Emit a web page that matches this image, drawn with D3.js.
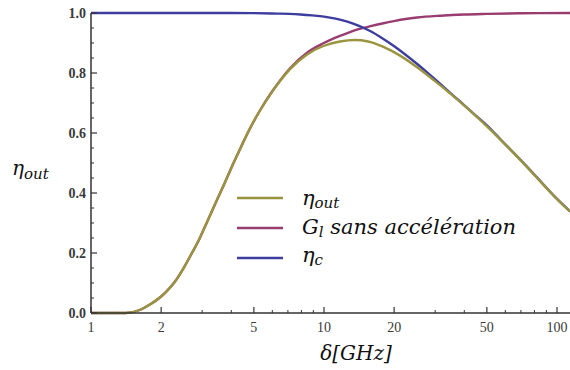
<!DOCTYPE html>
<html>
<head>
<meta charset="utf-8">
<script src="https://cdn.jsdelivr.net/npm/d3@7"></script>
<style>
  html, body { margin: 0; padding: 0; background: #fff; }
  svg { display: block; }
</style>
</head>
<body>
<svg id="chart" width="570" height="370"></svg>
<script>
// ---- data ----
const etaOutX = [1, 1.41, 1.62, 1.79, 2.0, 2.11, 2.29, 2.49, 2.69, 2.94, 3.16, 3.46, 3.76, 4.08, 4.42, 4.81, 5.31, 6.06, 7.15, 8.43, 9.93, 11.7, 13.6, 15.3, 16.5, 18, 21.2, 25, 29.5, 35.9, 42, 49.9, 58, 69.4, 82, 96.4, 113.7];
const etaOutY = [0, 0, 0.01, 0.028, 0.055, 0.072, 0.104, 0.148, 0.195, 0.252, 0.306, 0.374, 0.436, 0.498, 0.556, 0.615, 0.675, 0.743, 0.813, 0.861, 0.89, 0.905, 0.91, 0.906, 0.899, 0.887, 0.858, 0.82, 0.777, 0.723, 0.677, 0.623, 0.573, 0.511, 0.451, 0.392, 0.338];

const gainX = [1, 1.41, 1.62, 1.79, 2.0, 2.11, 2.29, 2.49, 2.69, 2.94, 3.16, 3.46, 3.76, 4.08, 4.42, 4.81, 5.31, 6.06, 7.15, 8.43, 9.93, 11.2, 12.6, 14.1, 15.85, 17.8, 19.95, 22.4, 25.1, 31.6, 39.8, 50, 70, 114];
const gainY = [0, 0, 0.01, 0.028, 0.055, 0.072, 0.104, 0.148, 0.195, 0.252, 0.306, 0.374, 0.436, 0.498, 0.556, 0.615, 0.675, 0.744, 0.816, 0.867, 0.899, 0.918, 0.933, 0.946, 0.956, 0.965, 0.973, 0.98, 0.985, 0.991, 0.995, 0.997, 0.999, 1.0];

const etaCX = [1, 3, 3.98, 5.0, 6.3, 7.08, 7.94, 8.9, 10, 11.22, 12.59, 14.13, 15.85, 17.78, 19.95, 22.39, 25.12, 28.18, 31.62, 35.48, 39.81, 44.67, 50.12, 58, 69.4, 82, 96.4, 113.7];
const etaCY = [1, 1, 1, 0.9995, 0.998, 0.997, 0.995, 0.992, 0.988, 0.981, 0.971, 0.957, 0.939, 0.916, 0.89, 0.861, 0.83, 0.797, 0.763, 0.728, 0.694, 0.659, 0.625, 0.574, 0.512, 0.452, 0.393, 0.339];

const xMajorTicks = [1, 2, 5, 10, 20, 50, 100];
const xMinorTicks = [3, 4, 6, 7, 8, 9, 30, 40, 60, 70, 80, 90];
const yMajorTicks = [0, 0.2, 0.4, 0.6, 0.8, 1.0];
const yMinorTicks = [0.05, 0.1, 0.15, 0.25, 0.3, 0.35, 0.45, 0.5, 0.55, 0.65, 0.7, 0.75, 0.85, 0.9, 0.95];

const seriesColors = ["#99943d", "#993d71", "#3d3da0"];

// ---- drawing ----
const svg = d3.select("#chart");
const x = d3.scaleLog().domain([1, 113.7]).range([91, 570]);
const y = d3.scaleLinear().domain([0, 1]).range([313, 13]);

svg.append("defs").append("clipPath").attr("id", "clip")
  .append("rect").attr("x", 91).attr("y", 0).attr("width", 479).attr("height", 320);

const line = d3.line()
  .x(d => x(d[0])).y(d => y(d[1]))
  .curve(d3.curveMonotoneX);

const series = [
  { xs: gainX, ys: gainY, color: seriesColors[1] },
  { xs: etaCX, ys: etaCY, color: seriesColors[2] },
  { xs: etaOutX, ys: etaOutY, color: seriesColors[0] }
];

const plot = svg.append("g").attr("clip-path", "url(#clip)");
series.forEach(s => {
  plot.append("path")
    .datum(s.xs.map((v, i) => [v, s.ys[i]]))
    .attr("fill", "none")
    .attr("stroke", s.color)
    .attr("stroke-width", 2.4)
    .attr("stroke-linejoin", "round")
    .attr("d", line);
});

const axisColor = "#333";
// bottom axis
const xAxis = svg.append("g");
xAxis.append("line").attr("x1", 91).attr("x2", 570).attr("y1", 313).attr("y2", 313)
  .attr("stroke", axisColor).attr("stroke-width", 1.5);
xAxis.selectAll("line.major").data(xMajorTicks).join("line")
  .attr("class", "major")
  .attr("x1", d => x(d)).attr("x2", d => x(d)).attr("y1", 313).attr("y2", 307)
  .attr("stroke", axisColor).attr("stroke-width", 1.2);
xAxis.selectAll("line.minor").data(xMinorTicks).join("line")
  .attr("class", "minor")
  .attr("x1", d => x(d)).attr("x2", d => x(d)).attr("y1", 313).attr("y2", 310)
  .attr("stroke", axisColor).attr("stroke-width", 1);
xAxis.selectAll("text").data(xMajorTicks).join("text")
  .attr("x", d => x(d)).attr("y", 332)
  .attr("text-anchor", "middle")
  .attr("font-family", "Liberation Serif, serif")
  .attr("font-size", 14)
  .attr("fill", "#3a3a3a")
  .text(d => d);

// left axis
const yAxis = svg.append("g");
yAxis.append("line").attr("x1", 91).attr("x2", 91).attr("y1", 13).attr("y2", 313)
  .attr("stroke", axisColor).attr("stroke-width", 1.5);
yAxis.selectAll("line.major").data(yMajorTicks).join("line")
  .attr("class", "major")
  .attr("x1", 91).attr("x2", 97).attr("y1", d => y(d)).attr("y2", d => y(d))
  .attr("stroke", axisColor).attr("stroke-width", 1.2);
yAxis.selectAll("line.minor").data(yMinorTicks).join("line")
  .attr("class", "minor")
  .attr("x1", 91).attr("x2", 94).attr("y1", d => y(d)).attr("y2", d => y(d))
  .attr("stroke", axisColor).attr("stroke-width", 1);
yAxis.selectAll("text").data(yMajorTicks).join("text")
  .attr("x", 86).attr("y", d => y(d) + 5)
  .attr("text-anchor", "end")
  .attr("font-family", "Liberation Serif, serif")
  .attr("font-size", 14)
  .attr("font-weight", "bold")
  .attr("fill", "#3a3a3a")
  .text(d => d3.format(".1f")(d));

// axis labels
const ylab = svg.append("text")
  .attr("x", 12).attr("y", 175)
  .attr("font-family", "DejaVu Serif, serif")
  .attr("font-style", "italic")
  .attr("font-size", 20)
  .attr("fill", "#111");
ylab.append("tspan").text("η");
ylab.append("tspan").attr("font-size", 15).attr("dy", 4).text("out");

svg.append("text")
  .attr("x", 356).attr("y", 360)
  .attr("text-anchor", "middle")
  .attr("font-family", "DejaVu Serif, serif")
  .attr("font-style", "italic")
  .attr("font-size", 20)
  .attr("fill", "#111")
  .text("δ[GHz]");

// legend
const legY = [198, 228, 258];
const leg = svg.append("g");
[0, 1, 2].forEach(i => {
  leg.append("line")
    .attr("x1", 237).attr("x2", 283).attr("y1", legY[i]).attr("y2", legY[i])
    .attr("stroke", seriesColors[i]).attr("stroke-width", 2.4);
});
const t0 = leg.append("text").attr("x", 302).attr("y", 205)
  .attr("font-family", "DejaVu Serif, serif").attr("font-style", "italic")
  .attr("font-size", 21).attr("fill", "#111");
t0.append("tspan").text("η");
t0.append("tspan").attr("font-size", 15).attr("dy", 3).text("out");

const t1 = leg.append("text").attr("x", 302).attr("y", 234)
  .attr("font-family", "DejaVu Serif, serif").attr("font-style", "italic")
  .attr("font-size", 21).attr("fill", "#111");
t1.append("tspan").text("G");
t1.append("tspan").attr("font-size", 15).attr("dy", 3).text("l");
t1.append("tspan").attr("dy", -3).text(" sans accélération");

const t2 = leg.append("text").attr("x", 302).attr("y", 262)
  .attr("font-family", "DejaVu Serif, serif").attr("font-style", "italic")
  .attr("font-size", 21).attr("fill", "#111");
t2.append("tspan").text("η");
t2.append("tspan").attr("font-size", 15).attr("dy", 3).text("c");
</script>
</body>
</html>
